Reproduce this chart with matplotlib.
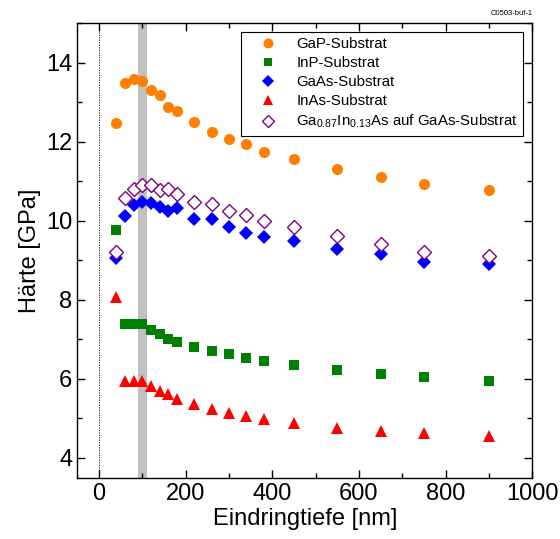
import matplotlib
matplotlib.use("Agg")
import matplotlib.pyplot as plt
from matplotlib.ticker import MultipleLocator
from matplotlib.legend_handler import HandlerLine2D

plt.rcParams['font.family'] = ['Liberation Sans', 'DejaVu Sans']
plt.rcParams['mathtext.fontset'] = 'custom'
plt.rcParams['mathtext.rm'] = 'Liberation Sans'
plt.rcParams['mathtext.it'] = 'Liberation Sans'

depth = [40, 60, 80, 100, 120, 140, 160, 180, 220, 260, 300, 340, 380, 450, 550, 650, 750, 900]
gap = [12.47, 13.48, 13.60, 13.53, 13.31, 13.18, 12.89, 12.77, 12.49, 12.25, 12.08, 11.94, 11.75, 11.56, 11.30, 11.10, 10.94, 10.78]
inp = [9.78, 7.38, 7.38, 7.38, 7.24, 7.14, 7.00, 6.94, 6.80, 6.71, 6.62, 6.54, 6.45, 6.34, 6.22, 6.12, 6.05, 5.94]
gaas = [9.07, 10.13, 10.40, 10.48, 10.44, 10.34, 10.24, 10.32, 10.04, 10.04, 9.85, 9.70, 9.58, 9.48, 9.28, 9.16, 8.96, 8.90]
inas = [8.08, 5.95, 5.95, 5.95, 5.82, 5.70, 5.61, 5.50, 5.36, 5.23, 5.13, 5.06, 4.98, 4.88, 4.77, 4.68, 4.62, 4.55]
gainas = [9.20, 10.59, 10.80, 10.91, 10.91, 10.78, 10.80, 10.68, 10.48, 10.42, 10.24, 10.15, 10.00, 9.85, 9.62, 9.41, 9.22, 9.11]

labels = ['GaP-Substrat', 'InP-Substrat', 'GaAs-Substrat', 'InAs-Substrat',
          r'Ga$_{0.87}$In$_{0.13}$As auf GaAs-Substrat']


class ShiftedMarker(HandlerLine2D):
    def get_xdata(self, legend, xdescent, ydescent, width, height, fontsize):
        xdata, _ = super().get_xdata(legend, xdescent, ydescent, width, height, fontsize)
        return xdata, [-xdescent + 0.68 * width]


fig = plt.figure(figsize=(5.6, 5.39), dpi=100)
ax = fig.add_axes([0.138, 0.1137, 0.8125, 0.8431])

ax.axvspan(90, 110, color='#c0c0c0', lw=0, zorder=0)
ax.axvline(0, color='black', ls=(0, (1.5, 1.5)), lw=0.6, zorder=1)

ax.plot(depth, gap, 'o', color='#ff8000', ms=8, mew=0, label=labels[0], zorder=3)
ax.plot(depth, inp, 's', color='#008000', ms=6.5, mew=0, label=labels[1], zorder=3)
ax.plot(depth, gaas, 'D', color='#0000ff', ms=7, mew=0, label=labels[2], zorder=3)
ax.plot(depth, inas, '^', color='#ff0000', ms=8, mew=0, label=labels[3], zorder=3)
ax.plot(depth, gainas, 'D', mfc='white', mec='#800080', ms=7.3, mew=1.0, label=labels[4], zorder=4)

ax.set_xlim(-50, 1000)
ax.set_ylim(3.5, 15)
ax.xaxis.set_major_locator(MultipleLocator(200))
ax.xaxis.set_minor_locator(MultipleLocator(100))
ax.yaxis.set_major_locator(MultipleLocator(2))
ax.yaxis.set_minor_locator(MultipleLocator(1))
ax.tick_params(which='both', direction='in', top=True, right=True, width=1.0, labelsize=17)
ax.tick_params(which='major', length=6)
ax.tick_params(which='minor', length=3.5)
ax.tick_params(axis='x', pad=4)
for s in ax.spines.values():
    s.set_linewidth(1.0)

ax.set_xlabel('Eindringtiefe [nm]', fontsize=17, labelpad=2)
ax.set_ylabel('Härte [GPa]', fontsize=17, labelpad=4)

leg = ax.legend(loc='upper left', bbox_to_anchor=(0.3598, 0.981), borderaxespad=0,
                fontsize=10.8, frameon=True, fancybox=False, edgecolor='black', framealpha=1,
                borderpad=0.35, labelspacing=0.33, handletextpad=0.5, handlelength=2.85,
                markerscale=0.9, handler_map={plt.Line2D: ShiftedMarker()})
leg.get_frame().set_linewidth(0.8)

fig.text(0.952, 0.968, 'C0503-buf-1', fontsize=5.5, ha='right', va='bottom')

fig.savefig('out.png', dpi=100)
